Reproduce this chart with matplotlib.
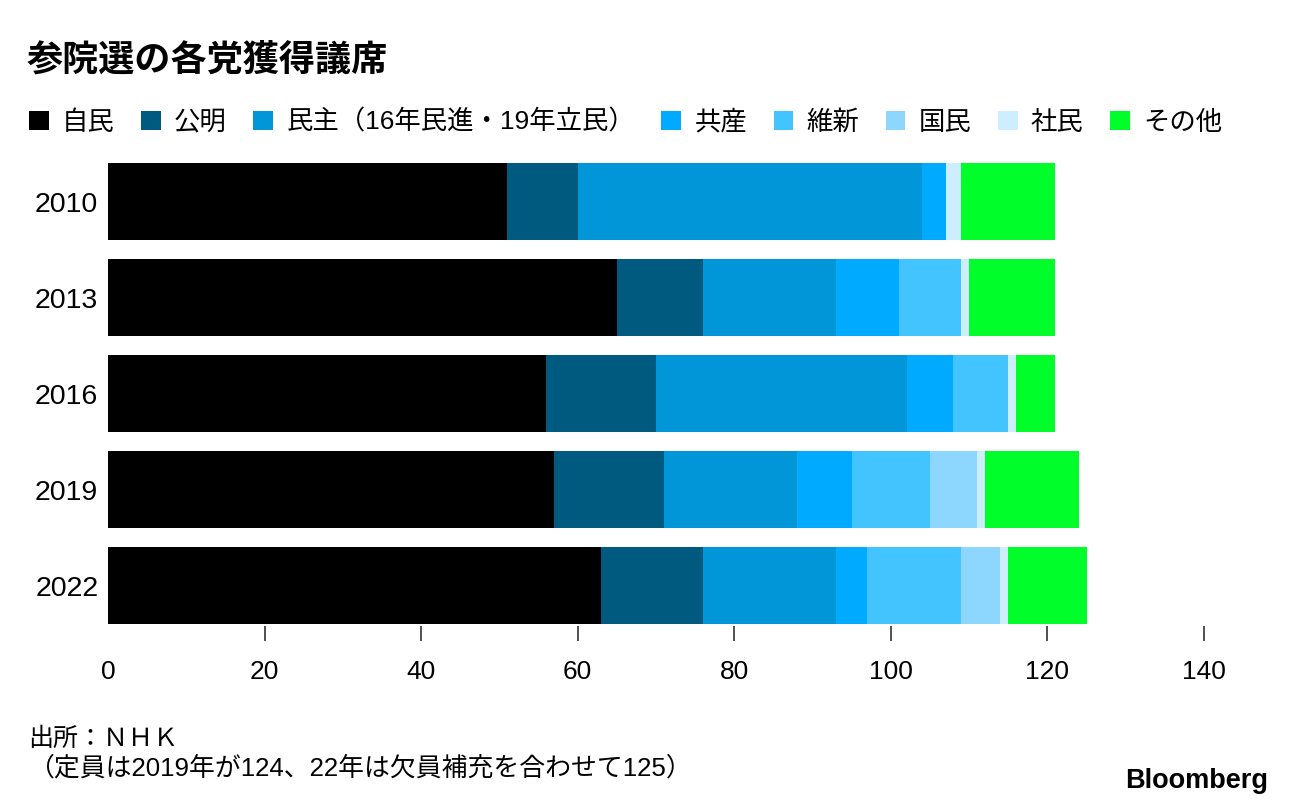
import matplotlib
matplotlib.use("Agg")
import matplotlib.pyplot as plt

# Latin digits in an Arial-like face, Japanese falls through to Noto CJK
plt.rcParams["font.family"] = ["Liberation Sans", "Noto Sans CJK JP", "DejaVu Sans"]

years = ["2010", "2013", "2016", "2019", "2022"]
parties = ["自民", "公明", "民主（16年民進・19年立民）", "共産", "維新", "国民", "社民", "その他"]
colors = ["#000000", "#005a80", "#0096d8", "#00aaff", "#44c4ff", "#8dd7ff", "#cdeeff", "#00ff2a"]

jimin = [51, 65, 56, 57, 63]
komei = [9, 11, 14, 14, 13]
minshu = [44, 17, 32, 17, 17]
kyosan = [3, 8, 6, 7, 4]
ishin = [0, 8, 7, 10, 12]
kokumin = [0, 0, 0, 6, 5]
shamin = [2, 1, 1, 1, 1]
sonota = [12, 11, 5, 12, 10]
series = [jimin, komei, minshu, kyosan, ishin, kokumin, shamin, sonota]

W, H = 1296, 808
fig = plt.figure(figsize=(W / 100, H / 100), dpi=100)
ax = fig.add_axes([108 / W, 1 - 626 / H, (1204 - 108) / W, (626 - 153.5) / H])

ypos = list(range(len(years)))
left = [0] * len(years)
handles = []
for vals, col, lab in zip(series, colors, parties):
    b = ax.barh(ypos, vals, left=left, height=0.8, color=col, label=lab, linewidth=0)
    handles.append(b)
    left = [l + v for l, v in zip(left, vals)]

ax.set_xlim(0, 140)
ax.set_ylim(4.42, -0.5)
ax.set_yticks(ypos)
ax.set_yticklabels(years, fontsize=20.5)
ax.set_xticks(range(0, 141, 20))
ax.set_xticklabels([str(v) for v in range(0, 141, 20)], fontsize=19)
ax.tick_params(axis="y", length=0, pad=7)
ax.tick_params(axis="x", length=10.5, width=1.2, color="#333333", pad=14)
ax.xaxis.get_major_ticks()[0].tick1line.set_visible(False)
for s in ax.spines.values():
    s.set_visible(False)

fig.text(27 / W, 1 - 61 / H, "参院選の各党獲得議席", fontsize=26, fontweight="bold",
         ha="left", va="center")

fig.legend(handles, parties, loc="center left", bbox_to_anchor=(29 / W, 1 - 122 / H),
           ncol=8, frameon=False, fontsize=19, handlelength=0.75, handleheight=0.75,
           handletextpad=0.5, columnspacing=1.0, borderaxespad=0, borderpad=0)

fig.text(28 / W, 1 - 739 / H, "出所：ＮＨＫ", fontsize=18, ha="left", va="center")
fig.text(28 / W, 1 - 768 / H, "（定員は2019年が124、22年は欠員補充を合わせて125）",
         fontsize=18.6, ha="left", va="center")
fig.text(1268 / W, 1 - 781 / H, "Bloomberg", fontsize=19.5, fontweight="bold",
         family="Liberation Sans", ha="right", va="center")

fig.savefig("out.png", dpi=100)
